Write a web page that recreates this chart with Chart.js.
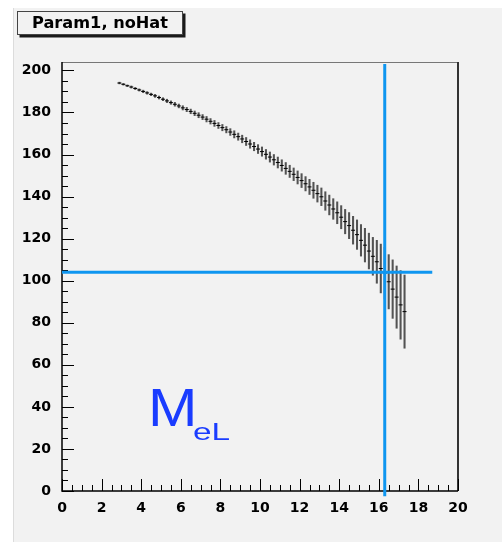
<!DOCTYPE html>
<html>
<head>
<meta charset="utf-8">
<script src="https://cdn.jsdelivr.net/npm/chart.js@4.4.1/dist/chart.umd.min.js"></script>
<style>
  html, body { margin: 0; padding: 0; background: #fff; }
  #wrap { width: 502px; height: 542px; position: relative; }
</style>
</head>
<body>
<div id="wrap"><canvas id="myChart"></canvas></div>
<script>
// bin centres
const binX = [
  2.9, 3.1, 3.3, 3.5, 3.7, 3.9, 4.1, 4.3, 4.5, 4.7, 4.9, 5.1, 5.3, 5.5, 5.7, 5.9,
  6.1, 6.3, 6.5, 6.7, 6.9, 7.1, 7.3, 7.5, 7.7, 7.9, 8.1, 8.3, 8.5, 8.7, 8.9,
  9.1, 9.3, 9.5, 9.7, 9.9, 10.1, 10.3, 10.5, 10.7, 10.9, 11.1, 11.3, 11.5, 11.7, 11.9,
  12.1, 12.3, 12.5, 12.7, 12.9, 13.1, 13.3, 13.5, 13.7, 13.9, 14.1, 14.3, 14.5, 14.7, 14.9,
  15.1, 15.3, 15.5, 15.7, 15.9, 16.1, 16.3, 16.5, 16.7, 16.9, 17.1, 17.3
];
// Param1 (wartość w binie)
const paramY = [
  194.0, 193.4, 192.7, 192.1, 191.4, 190.7, 190.0, 189.3, 188.6, 187.9, 187.1, 186.3, 185.5, 184.7, 183.9, 183.1,
  182.2, 181.4, 180.5, 179.6, 178.7, 177.8, 176.8, 175.8, 174.8, 173.8, 172.8, 171.8, 170.7, 169.6, 168.5,
  167.4, 166.2, 165.0, 163.8, 162.6, 161.4, 160.1, 158.8, 157.5, 156.2, 154.8, 153.4, 152.0, 150.6, 149.1,
  147.6, 146.1, 144.6, 143.0, 141.4, 139.9, 137.9, 136.0, 134.1, 132.3, 130.2, 128.1, 126.2, 124.0, 121.9,
  119.2, 116.9, 114.1, 111.6, 109.0, 105.8, 103.6, 99.5, 96.0, 92.2, 88.5, 85.3
];
// błąd (połowa słupka)
const paramErr = [
  0.4, 0.4, 0.4, 0.5, 0.5, 0.5, 0.6, 0.6, 0.6, 0.7, 0.7, 0.7, 0.8, 0.8, 0.9, 0.9,
  1.0, 1.0, 1.1, 1.1, 1.2, 1.2, 1.3, 1.3, 1.4, 1.4, 1.5, 1.5, 1.6, 1.7, 1.7,
  1.8, 1.9, 2.0, 2.0, 2.1, 2.2, 2.3, 2.4, 2.5, 2.6, 2.7, 2.8, 2.9, 3.0, 3.1,
  3.3, 3.4, 3.6, 3.8, 4.0, 4.2, 4.4, 4.7, 4.9, 5.2, 5.5, 5.8, 6.2, 6.6, 7.0,
  7.5, 8.0, 8.5, 9.0, 10.2, 11.6, 12.3, 12.9, 13.9, 14.8, 16.3, 17.4
];

const xTickValues = [0, 2, 4, 6, 8, 10, 12, 14, 16, 18, 20];
const yTickValues = [0, 20, 40, 60, 80, 100, 120, 140, 160, 180, 200];

// linie cięcia (niebieskie)
const cutY = 104;
const cutYEndX = 18.7;
const cutX = 16.3;
const cutXRange = [-2.5, 203];

const titleText = 'Param1, noHat';
const labelMain = 'M';
const labelSub = 'eL';

const BLUE = '#0f96f0';

// ramka, tło, znaczniki osi w stylu ROOT
const rootFrame = {
    id: 'rootFrame',
    beforeDraw(chart) {
        const c = chart.ctx;
        c.save();
        c.fillStyle = '#fff';
        c.fillRect(0, 0, chart.width, chart.height);
        c.fillStyle = '#f2f2f2';
        c.fillRect(13, 8, chart.width - 13, chart.height - 8);
        c.fillStyle = '#dcdcdc';
        c.fillRect(13, 8, 1, chart.height - 8);
        c.restore();
    },
    beforeDatasetsDraw(chart) {
        const c = chart.ctx, a = chart.chartArea;
        const xs = chart.scales.x, ys = chart.scales.y;
        c.save();
        c.strokeStyle = '#777'; c.lineWidth = 1;
        c.beginPath(); c.moveTo(a.left, a.top + 0.5); c.lineTo(a.right, a.top + 0.5); c.stroke();
        c.strokeStyle = '#333'; c.lineWidth = 2;
        c.beginPath(); c.moveTo(a.right, a.top); c.lineTo(a.right, a.bottom); c.stroke();
        c.strokeStyle = '#000'; c.lineWidth = 1.5;
        c.beginPath(); c.moveTo(a.left, a.top); c.lineTo(a.left, a.bottom); c.lineTo(a.right, a.bottom); c.stroke();

        c.lineWidth = 1;
        c.beginPath();
        for (let i = 0; i <= 40; i++) {
            const px = Math.round(xs.getPixelForValue(i * 0.5)) + 0.5;
            const len = i % 4 === 0 ? 12 : 6;
            c.moveTo(px, a.bottom); c.lineTo(px, a.bottom - len);
        }
        for (let i = 0; i <= 40; i++) {
            const py = Math.round(ys.getPixelForValue(i * 5)) + 0.5;
            const len = i % 4 === 0 ? 12 : 6;
            c.moveTo(a.left, py); c.lineTo(a.left + len, py);
        }
        c.stroke();
        c.restore();
    },
    afterDraw(chart) {
        const c = chart.ctx;
        c.save();
        // pudełko z tytułem
        c.fillStyle = '#1a1a1a';
        c.fillRect(19.5, 13.5, 166, 24);
        c.fillStyle = '#f2f2f2';
        c.fillRect(17, 11, 166, 24);
        c.strokeStyle = '#444'; c.lineWidth = 1;
        c.strokeRect(17.5, 11.5, 165, 23);
        c.fillStyle = '#000';
        c.font = 'bold 15px "DejaVu Sans"';
        c.textBaseline = 'middle';
        c.textAlign = 'center';
        const w = c.measureText(titleText).width;
        c.translate(100, 24);
        c.scale(136 / w, 1);
        c.fillText(titleText, 0, 0);
        c.restore();

        // M_eL
        c.save();
        c.fillStyle = '#1a3cff';
        c.textBaseline = 'alphabetic';
        c.textAlign = 'left';
        c.translate(148, 426);
        c.scale(1.12, 1);
        c.font = '53px "Liberation Sans"';
        c.fillText(labelMain, 0, 0);
        c.restore();
        c.save();
        c.fillStyle = '#1a3cff';
        c.translate(193, 440);
        c.scale(1.45, 1);
        c.font = '23px "Liberation Sans"';
        c.fillText(labelSub, 0, 0);
        c.restore();
    }
};

const tickFont = { family: 'DejaVu Sans', weight: 'bold', size: 14 };

const ctx = document.getElementById('myChart').getContext('2d');
const myChart = new Chart(ctx, {
    type: 'scatter',
    data: {
        datasets: [
            {
                type: 'line',
                data: [{ x: 0, y: cutY }, { x: cutYEndX, y: cutY }],
                borderColor: BLUE, borderWidth: 3, pointRadius: 0, clip: false, order: 0
            },
            {
                type: 'line',
                data: [{ x: cutX, y: cutXRange[0] }, { x: cutX, y: cutXRange[1] }],
                borderColor: BLUE, borderWidth: 3, pointRadius: 0, clip: false, order: 1
            },
            {
                type: 'scatter',
                data: binX.map((x, i) => ({ x: x, y: paramY[i] })),
                pointStyle: 'line', pointRadius: 2, borderColor: '#000', pointBorderWidth: 1,
                order: 2
            },
            {
                type: 'bar',
                data: binX.map((x, i) => ({ x: x, y: [paramY[i] - paramErr[i], paramY[i] + paramErr[i]] })),
                barThickness: 1.4, backgroundColor: 'rgba(30,30,30,0.75)', borderWidth: 0,
                order: 3
            }
        ]
    },
    options: {
        responsive: true,
        maintainAspectRatio: false,
        animation: false,
        events: [],
        layout: { padding: { top: 62, right: 44, left: 0, bottom: 0 } },
        plugins: { legend: { display: false }, tooltip: { enabled: false } },
        scales: {
            x: {
                type: 'linear', min: 0, max: 20, offset: false,
                grid: { display: false }, border: { display: false },
                afterBuildTicks: s => { s.ticks = xTickValues.map(v => ({ value: v })); },
                afterFit: s => { s.height = 51; },
                ticks: { font: tickFont, color: '#000', padding: 1, maxRotation: 0, autoSkip: false }
            },
            y: {
                type: 'linear', min: 0, max: 204,
                grid: { display: false }, border: { display: false },
                afterBuildTicks: s => { s.ticks = yTickValues.map(v => ({ value: v })); },
                afterFit: s => { s.width = 62; },
                ticks: { font: tickFont, color: '#000', padding: 3, autoSkip: false }
            }
        }
    },
    plugins: [rootFrame]
});
</script>
</body>
</html>
